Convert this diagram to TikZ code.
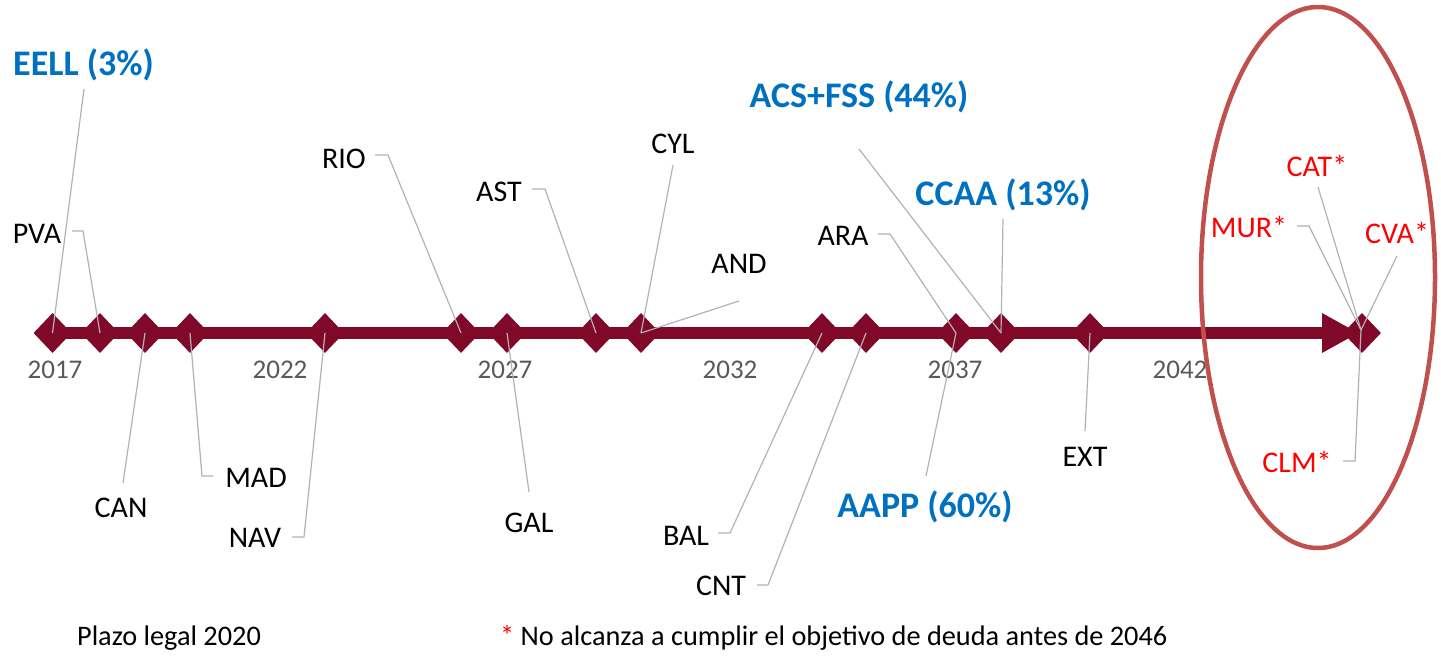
\documentclass[tikz,border=0pt]{standalone}
\usepackage{fontspec}
\setmainfont{Carlito}
\usetikzlibrary{shapes.geometric}
\definecolor{wine}{RGB}{128,9,42}
\definecolor{lblue}{RGB}{0,112,192}
\definecolor{lred}{RGB}{255,0,0}
\definecolor{ring}{RGB}{192,80,77}
\definecolor{leadc}{RGB}{178,178,178}
\definecolor{yearc}{RGB}{89,89,89}
\begin{document}
\begin{tikzpicture}[x=1pt,y=-1pt,
  dia/.style={diamond, fill=wine, inner sep=0pt, minimum width=38pt, minimum height=40pt},
  lab/.style={font=\fontsize{30}{36}\selectfont, text=black, anchor=base, inner sep=0pt},
  big/.style={font=\bfseries\fontsize{36}{42}\selectfont, text=lblue, anchor=base, inner sep=0pt},
  redl/.style={lab, text=lred},
  yr/.style={font=\fontsize{27}{32}\selectfont, text=yearc, anchor=base, inner sep=0pt},
  foot/.style={font=\fontsize{28.3}{34}\selectfont, text=black, inner sep=0pt},
  leader/.style={draw=leadc, line width=1.2pt}]
\useasboundingbox (0,0) rectangle (1441,656);

% spine
\coordinate (s0) at (48,333);
\coordinate (s1) at (1324,333);
\draw[wine, line width=12pt] (s0) -- (s1);
\fill[wine] (1322,313) -- (1358,333) -- (1322,353) -- cycle;

% diamonds
\foreach \n/\x in {2017/52.5,2018/100,2019/145,2020/190,2023/325,2026/461,2027/507,2029/596,2030/641,2034/822,2035/866,2037/956,2038/1001,2040/1090,2046/1362}
  \node[dia] (d\n) at (\x,333) {};

% years
\foreach \y/\x in {2017/55,2022/280,2027/505,2032/730,2037/955,2042/1180}
  \node[yr] (y\y) at (\x,378) {\y};

% ellipse
\draw[ring, line width=4.5pt] (1318,277.5) ellipse [x radius=117, y radius=270.5];

% labels
\node[big] (eell) at (83.5,75) {EELL (3\%)};
\node[lab] (pva) at (37,243) {PVA};
\node[lab] (can) at (121,517) {CAN};
\node[lab] (mad) at (256,487) {MAD};
\node[lab] (nav) at (255,547) {NAV};
\node[lab] (rio) at (344,168) {RIO};
\node[lab] (ast) at (499,201) {AST};
\node[lab] (cyl) at (673,153) {CYL};
\node[lab] (and) at (739,273) {AND};
\node[lab] (gal) at (529,532) {GAL};
\node[lab] (bal) at (686,545) {BAL};
\node[lab] (cnt) at (721,595) {CNT};
\node[lab] (ara) at (843,245) {ARA};
\node[big] (acs) at (859,107) {ACS+FSS (44\%)};
\node[big] (ccaa) at (1003,205) {CCAA (13\%)};
\node[big] (aapp) at (925,517) {AAPP (60\%)};
\node[lab] (ext) at (1085,466) {EXT};
\node[redl] (cat) at (1317,176) {CAT*};
\node[redl] (mur) at (1249,237) {MUR*};
\node[redl] (cva) at (1397,243) {CVA*};
\node[redl] (clm) at (1297,472) {CLM*};

% leader start points
\coordinate (eellL) at (84,89);
\coordinate (pvaL) at (72,231);   \coordinate (pvaK) at (83,231);
\coordinate (canL) at (123,483);
\coordinate (madL) at (213,476);  \coordinate (madK) at (202,476);
\coordinate (navL) at (292,537);  \coordinate (navK) at (304,537);
\coordinate (rioL) at (375,155);  \coordinate (rioK) at (388,155);
\coordinate (astL) at (532,189);  \coordinate (astK) at (545,189);
\coordinate (cylL) at (673,165);
\coordinate (andL) at (739,301);
\coordinate (galL) at (529,492);
\coordinate (balL) at (718,533);  \coordinate (balK) at (730,533);
\coordinate (cntL) at (757,585);  \coordinate (cntK) at (768,585);
\coordinate (araL) at (878,234);  \coordinate (araK) at (890,234);
\coordinate (aappL) at (926,476);
\coordinate (acsL) at (859,149);
\coordinate (ccaaL) at (1003,219);
\coordinate (extL) at (1085,431);
\coordinate (murL) at (1297,226); \coordinate (murK) at (1309,226);
\coordinate (catL) at (1318,187);
\coordinate (cvaL) at (1397,256);
\coordinate (clmL) at (1343,461); \coordinate (clmK) at (1355,461);
\coordinate (hub) at (1361,330);

% leaders
\draw[leader] (eellL) -- (d2017.center);
\draw[leader] (pvaL) -- (pvaK) -- (d2018.center);
\draw[leader] (canL) -- (d2019.center);
\draw[leader] (madL) -- (madK) -- (d2020.center);
\draw[leader] (navL) -- (navK) -- (d2023.center);
\draw[leader] (rioL) -- (rioK) -- (d2026.center);
\draw[leader] (galL) -- (d2027.center);
\draw[leader] (astL) -- (astK) -- (d2029.center);
\draw[leader] (cylL) -- (d2030.center);
\draw[leader] (andL) -- (d2030.center);
\draw[leader] (balL) -- (balK) -- (d2034.center);
\draw[leader] (cntL) -- (cntK) -- (d2035.center);
\draw[leader] (araL) -- (araK) -- (d2037.center);
\draw[leader] (aappL) -- (d2037.center);
\draw[leader] (acsL) -- (d2038.center);
\draw[leader] (ccaaL) -- (d2038.center);
\draw[leader] (extL) -- (d2040.center);
\draw[leader] (murL) -- (murK) -- (hub);
\draw[leader] (catL) -- (hub);
\draw[leader] (cvaL) -- (hub);
\draw[leader] (clmL) -- (clmK) -- (hub);

% footer
\node[foot, anchor=base] (plazo) at (169,645) {Plazo legal 2020};
\node[foot, anchor=base west] (nota) at (500,645) {{\color{lred}*} No alcanza a cumplir el objetivo de deuda antes de 2046};
\end{tikzpicture}
\end{document}
